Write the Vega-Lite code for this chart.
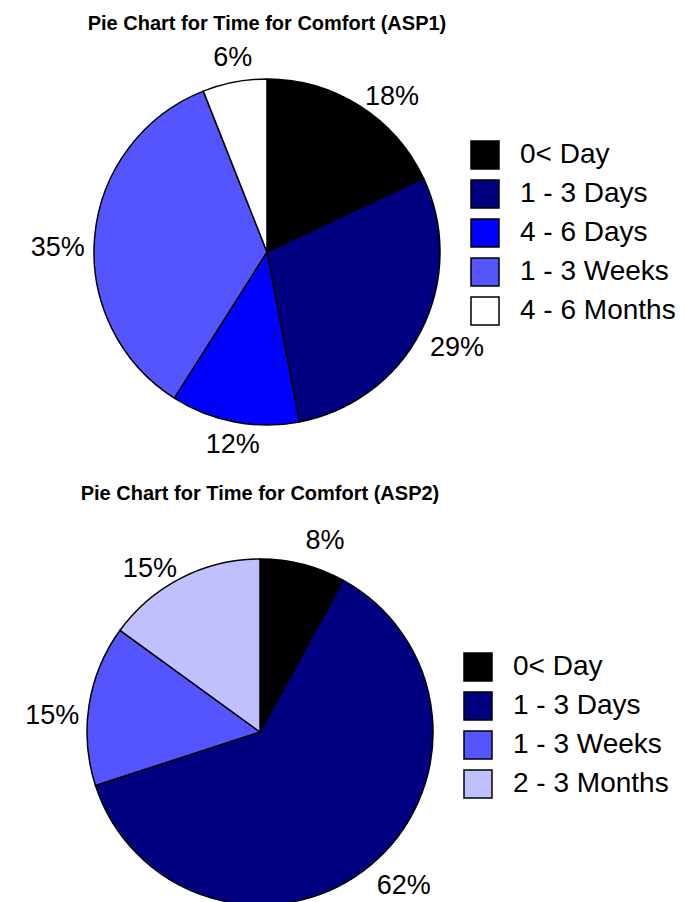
{
  "$schema": "https://vega.github.io/schema/vega-lite/v6.json",
  "padding": {"left": 25, "top": 14, "right": 0, "bottom": 0},
  "spacing": 20,
  "config": {
    "view": {"stroke": null},
    "font": "Liberation Sans",
    "title": {"font": "Liberation Sans", "fontSize": 20, "fontWeight": "bold", "color": "black", "anchor": "middle", "offset": 6},
    "legend": {"padding": 0, "symbolType": "square", "symbolSize": 784, "symbolStrokeColor": "black", "symbolStrokeWidth": 1.5, "labelFontSize": 28, "labelFont": "Liberation Sans", "labelColor": "black", "labelOffset": 20, "rowPadding": 5, "title": null}
  },
  "vconcat": [
    {
      "title": {"text": "Pie Chart for Time for Comfort (ASP1)"},
      "width": 360,
      "height": 424,
      "data": {"values": [
        {"idx": 1, "category": "0< Day", "pct": 0.18},
        {"idx": 2, "category": "1 - 3 Days", "pct": 0.29},
        {"idx": 3, "category": "4 - 6 Days", "pct": 0.12},
        {"idx": 4, "category": "1 - 3 Weeks", "pct": 0.35},
        {"idx": 5, "category": "4 - 6 Months", "pct": 0.06}
      ]},
      "encoding": {
        "theta": {"field": "pct", "type": "quantitative", "stack": true},
        "order": {"field": "idx", "type": "quantitative"}
      },
      "layer": [
        {
          "mark": {"type": "arc", "outerRadius": 173, "stroke": "black", "strokeWidth": 1.5},
          "encoding": {
            "color": {
              "field": "category", "type": "nominal",
              "scale": {"domain": ["0< Day", "1 - 3 Days", "4 - 6 Days", "1 - 3 Weeks", "4 - 6 Months"], "range": ["#000000", "#000080", "#0000FF", "#5555FF", "#FFFFFF"]},
              "legend": {"orient": "none", "legendX": 383, "legendY": 100}
            }
          }
        },
        {
          "mark": {
            "type": "text", "radius": 183, "fontSize": 27, "font": "Liberation Sans", "color": "black",
            "align": {"expr": "sin(PI*(datum.pct_start+datum.pct_end)) > 0.2 ? 'left' : (sin(PI*(datum.pct_start+datum.pct_end)) < -0.2 ? 'right' : 'center')"},
            "baseline": {"expr": "cos(PI*(datum.pct_start+datum.pct_end)) > 0.95 ? 'bottom' : (cos(PI*(datum.pct_start+datum.pct_end)) > 0.3 ? 'middle' : 'top')"}
          },
          "encoding": {"text": {"field": "pct", "type": "quantitative", "format": ".0%"}}
        }
      ]
    },
    {
      "title": {"text": "Pie Chart for Time for Comfort (ASP2)", "offset": 16},
      "width": 346,
      "height": 424,
      "data": {"values": [
        {"idx": 1, "category": "0< Day", "pct": 0.08},
        {"idx": 2, "category": "1 - 3 Days", "pct": 0.62},
        {"idx": 3, "category": "1 - 3 Weeks", "pct": 0.15},
        {"idx": 4, "category": "2 - 3 Months", "pct": 0.15}
      ]},
      "encoding": {
        "theta": {"field": "pct", "type": "quantitative", "stack": true},
        "order": {"field": "idx", "type": "quantitative"}
      },
      "layer": [
        {
          "mark": {"type": "arc", "outerRadius": 173, "stroke": "black", "strokeWidth": 1.5},
          "encoding": {
            "color": {
              "field": "category", "type": "nominal",
              "scale": {"domain": ["0< Day", "1 - 3 Days", "1 - 3 Weeks", "2 - 3 Months"], "range": ["#000000", "#000080", "#5555FF", "#C0C0FF"]},
              "legend": {"orient": "none", "legendX": 376, "legendY": 132}
            }
          }
        },
        {
          "mark": {
            "type": "text", "radius": 183, "fontSize": 27, "font": "Liberation Sans", "color": "black",
            "align": {"expr": "sin(PI*(datum.pct_start+datum.pct_end)) > 0.2 ? 'left' : (sin(PI*(datum.pct_start+datum.pct_end)) < -0.2 ? 'right' : 'center')"},
            "baseline": {"expr": "cos(PI*(datum.pct_start+datum.pct_end)) > 0.95 ? 'bottom' : (cos(PI*(datum.pct_start+datum.pct_end)) > 0.3 ? 'middle' : 'top')"}
          },
          "encoding": {"text": {"field": "pct", "type": "quantitative", "format": ".0%"}}
        }
      ]
    }
  ],
  "resolve": {"scale": {"color": "independent", "theta": "independent"}}
}
